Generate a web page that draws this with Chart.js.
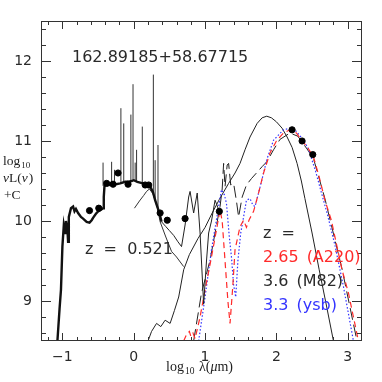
<!DOCTYPE html>
<html>
<head>
<meta charset="utf-8">
<script src="https://cdn.jsdelivr.net/npm/chart.js@4"></script>
<style>
  body { margin: 0; background: #fff; }
</style>
</head>
<body>
<canvas id="sed" width="382" height="382"></canvas>
<script>
// optical template, thick
const optX = [-1.07, -1.04, -1.02, -1.00, -0.98, -0.96, -0.95, -0.93, -0.92, -0.91, -0.88, -0.85, -0.83, -0.81, -0.78, -0.74, -0.71, -0.66, -0.62, -0.59, -0.57, -0.53, -0.50, -0.46, -0.43, -0.42, -0.41, -0.38, -0.34, -0.31, -0.25, -0.19, -0.12, -0.08, -0.03, 0.00, 0.05, 0.13, 0.20, 0.23, 0.27, 0.30, 0.33, 0.36, 0.39];
const optY = [8.5, 8.9, 9.14, 9.68, 9.95, 9.85, 10.0, 9.9, 9.74, 10.05, 10.16, 10.18, 10.12, 10.15, 10.10, 10.05, 10.03, 9.99, 9.98, 10.01, 10.04, 10.09, 10.12, 10.14, 10.16, 10.30, 10.44, 10.46, 10.45, 10.47, 10.46, 10.47, 10.49, 10.49, 10.50, 10.51, 10.49, 10.47, 10.45, 10.43, 10.36, 10.26, 10.18, 10.10, 9.99];
// thin continuation into mid-IR
const midX = [0.39, 0.45, 0.50, 0.56, 0.62, 0.67, 0.72, 0.77, 0.79, 0.84, 0.89, 0.93, 0.98, 1.02, 1.05, 1.09, 1.14, 1.20];
const midY = [9.99, 9.93, 9.88, 9.82, 9.74, 9.68, 9.95, 10.30, 10.37, 10.10, 10.35, 9.85, 8.96, 9.50, 9.85, 10.00, 10.26, 10.12];
// second thin optical template
const thinX = [0.01, 0.08, 0.14, 0.18, 0.22, 0.27, 0.33, 0.37, 0.45, 0.53, 0.60, 0.70];
const thinY = [10.16, 10.25, 10.32, 10.37, 10.40, 10.34, 10.17, 9.99, 9.80, 9.62, 9.55, 9.43];
// peaked solid curve
const peakX = [0.20, 0.25, 0.32, 0.38, 0.44, 0.51, 0.57, 0.63, 0.70, 0.78, 0.90, 1.00, 1.10, 1.20, 1.33, 1.42, 1.49, 1.56, 1.63, 1.73, 1.80, 1.865, 1.93, 2.00, 2.08, 2.15, 2.22, 2.29, 2.35, 2.40, 2.50, 2.60, 2.70, 2.80];
const peakY = [8.5, 8.62, 8.72, 8.68, 8.76, 8.72, 8.88, 9.05, 9.39, 9.58, 9.78, 9.92, 10.10, 10.27, 10.47, 10.60, 10.72, 10.89, 11.05, 11.22, 11.29, 11.31, 11.29, 11.24, 11.16, 11.05, 10.92, 10.72, 10.50, 10.28, 9.85, 9.39, 8.95, 8.5];
// A220 at z = 2.65
const a220X = [0.70, 0.74, 0.78, 0.80, 0.83, 0.86, 0.93, 1.00, 1.09, 1.16, 1.21, 1.24, 1.28, 1.32, 1.35, 1.39, 1.42, 1.49, 1.54, 1.58, 1.62, 1.68, 1.75, 1.82, 1.91, 2.00, 2.10, 2.19, 2.28, 2.36, 2.43, 2.52, 2.60, 2.68, 2.77, 2.92, 3.01, 3.08, 3.15];
const a220Y = [8.5, 8.58, 8.62, 8.56, 8.60, 8.53, 8.80, 9.14, 9.55, 9.89, 10.14, 10.0, 9.5, 9.0, 8.72, 9.2, 9.64, 9.93, 10.01, 9.92, 10.02, 10.12, 10.35, 10.60, 10.85, 11.0, 11.10, 11.14, 11.10, 11.0, 10.93, 10.80, 10.55, 10.26, 10.01, 9.39, 9.10, 8.80, 8.5];
// M82 at z = 3.6
const m82X = [0.84, 0.95, 1.07, 1.14, 1.21, 1.24, 1.26, 1.28, 1.31, 1.33, 1.36, 1.40, 1.44, 1.47, 1.52, 1.58, 1.65, 1.72, 1.80, 1.865, 1.96, 2.05, 2.19, 2.30, 2.43, 2.52, 2.68, 2.92, 3.13];
const m82Y = [8.5, 9.10, 9.51, 9.85, 10.18, 10.40, 10.72, 10.43, 10.70, 10.72, 10.45, 10.47, 10.25, 10.05, 10.30, 10.45, 10.53, 10.60, 10.68, 10.74, 10.89, 11.02, 11.10, 11.06, 10.90, 10.78, 10.28, 9.40, 8.5];
// ysb at z = 3.3
const ysbX = [0.91, 1.00, 1.09, 1.19, 1.23, 1.27, 1.30, 1.34, 1.37, 1.40, 1.43, 1.46, 1.50, 1.54, 1.58, 1.63, 1.67, 1.70, 1.75, 1.82, 1.87, 1.96, 2.10, 2.19, 2.26, 2.38, 2.45, 2.55, 2.66, 2.71, 2.82, 2.94, 3.08];
const ysbY = [8.5, 9.05, 9.64, 10.18, 10.39, 10.33, 10.22, 9.80, 9.55, 9.20, 9.05, 9.50, 9.85, 10.05, 10.26, 10.28, 10.20, 10.18, 10.35, 10.60, 10.78, 11.01, 11.14, 11.16, 11.14, 11.01, 10.90, 10.62, 10.26, 10.10, 9.70, 9.18, 8.5];
// emission lines
const lineX = [-0.43, -0.31, -0.27, -0.18, -0.14, -0.04, -0.01, 0.02, 0.04, 0.12, 0.275, 0.30, 0.34];
const lineBase = [10.44, 10.47, 10.46, 10.47, 10.48, 10.50, 10.50, 10.50, 10.50, 10.47, 10.35, 10.26, 10.14];
const lineTop = [10.73, 10.74, 10.64, 11.41, 11.22, 11.33, 11.71, 10.73, 10.89, 11.18, 11.83, 10.76, 10.95];
// photometry
const obsX = [-0.62, -0.49, -0.38, -0.29, -0.22, -0.08, 0.16, 0.21, 0.37, 0.47, 0.72, 1.20, 2.22, 2.36, 2.51];
const obsY = [10.13, 10.16, 10.47, 10.46, 10.60, 10.46, 10.45, 10.45, 10.10, 10.01, 10.03, 10.12, 11.14, 11.00, 10.83];

const xTicks = [-1, 0, 1, 2, 3];
const yTicks = [9, 10, 11, 12];

const zip = (xs, ys) => xs.map((x, i) => ({ x: x, y: ys[i] }));

const spikes = [];
lineX.forEach((x, i) => {
    spikes.push({ x: x, y: lineBase[i] }, { x: x, y: lineTop[i] }, { x: x, y: null });
});

function curve(xs, ys, color, width, dash) {
    return {
        data: zip(xs, ys),
        showLine: true,
        borderColor: color,
        borderWidth: width,
        borderDash: dash || [],
        pointRadius: 0,
        fill: false,
        tension: 0,
    };
}

const frame = {
    id: 'frame',
    afterDraw(chart) {
        const { ctx, chartArea: a, scales } = chart;
        const x = scales.x, y = scales.y;
        ctx.save();
        ctx.strokeStyle = '#333';
        ctx.lineWidth = 1;
        ctx.strokeRect(a.left + 0.5, a.top + 0.5, a.right - a.left - 1, a.bottom - a.top - 1);
        ctx.beginPath();
        for (let i = -6; i <= 16; i++) {
            const v = i * 0.2;
            if (v <= x.min || v >= x.max) continue;
            const px = Math.round(x.getPixelForValue(v)) + 0.5;
            const len = i % 5 === 0 ? 8 : 4;
            ctx.moveTo(px, a.bottom); ctx.lineTo(px, a.bottom - len);
            ctx.moveTo(px, a.top); ctx.lineTo(px, a.top + len);
        }
        for (let i = 42; i <= 63; i++) {
            const v = i * 0.2;
            if (v <= y.min || v >= y.max) continue;
            const py = Math.round(y.getPixelForValue(v)) + 0.5;
            const len = i % 5 === 0 ? 10 : 5;
            ctx.moveTo(a.left, py); ctx.lineTo(a.left + len, py);
            ctx.moveTo(a.right, py); ctx.lineTo(a.right - len, py);
        }
        ctx.stroke();

        // texts
        ctx.fillStyle = '#2a2a2a';
        ctx.textBaseline = 'alphabetic';
        ctx.textAlign = 'left';
        ctx.font = '16px "DejaVu Sans"';
        ctx.fillText('162.89185+58.67715', 72, 62);

        ctx.fillText('z  =  0.521', 85, 254);
        ctx.fillText('z  =', 263, 238);
        ctx.fillStyle = '#ff2a2a';
        ctx.fillText('2.65\u2002(A220)', 263, 262);
        ctx.fillStyle = '#2a2a2a';
        ctx.fillText('3.6\u2002(M82)', 263, 286);
        ctx.fillStyle = '#3333ff';
        ctx.fillText('3.3\u2002(ysb)', 263, 310);

        // axis titles
        ctx.fillStyle = '#222';
        ctx.font = '13.5px "Liberation Serif"';
        ctx.fillText('log', 3, 165);
        let w = ctx.measureText('log').width;
        ctx.font = '9px "Liberation Serif"';
        ctx.fillText('10', 3 + w + 1, 168);
        ctx.font = 'italic 13.5px "Liberation Serif"';
        ctx.fillText('\u03bd', 3, 182);
        w = ctx.measureText('\u03bd').width;
        ctx.font = '13.5px "Liberation Serif"';
        ctx.fillText('L(', 3 + w, 182);
        w += ctx.measureText('L(').width;
        ctx.font = 'italic 13.5px "Liberation Serif"';
        ctx.fillText('\u03bd', 3 + w, 182);
        w += ctx.measureText('\u03bd').width;
        ctx.font = '13.5px "Liberation Serif"';
        ctx.fillText(')', 3 + w + 1, 182);
        ctx.fillText('+C', 4, 199);

        ctx.font = '14px "Liberation Serif"';
        ctx.fillText('log', 166, 371);
        w = ctx.measureText('log').width;
        ctx.font = '9.5px "Liberation Serif"';
        ctx.fillText('10', 166 + w + 1, 374);
        ctx.font = '14px "Liberation Serif"';
        ctx.fillText('\u03bb(', 199, 371);
        w = ctx.measureText('\u03bb(').width;
        ctx.font = 'italic 14px "Liberation Serif"';
        ctx.fillText('\u03bc', 199 + w, 371);
        w += ctx.measureText('\u03bc').width;
        ctx.font = '14px "Liberation Serif"';
        ctx.fillText('m)', 199 + w, 371);
        ctx.restore();
    }
};

new Chart(document.getElementById('sed'), {
    type: 'scatter',
    data: {
        datasets: [
            {
                data: zip(obsX, obsY),
                backgroundColor: '#000',
                borderColor: '#000',
                pointRadius: 3.1,
                showLine: false,
            },
            curve(optX, optY, '#111', 2.4),
            {
                data: spikes,
                showLine: true,
                spanGaps: false,
                borderColor: '#333',
                borderWidth: 1,
                pointRadius: 0,
            },
            curve(midX, midY, '#222', 1),
            curve(thinX, thinY, '#333', 1),
            curve(a220X, a220Y, '#ff2a2a', 1.2, [6, 4]),
            curve(ysbX, ysbY, '#3333ff', 1.2, [1.5, 2]),
            curve(m82X, m82Y, '#222', 1, [12, 5]),
            curve(peakX, peakY, '#222', 1),
        ],
    },
    options: {
        responsive: false,
        animation: false,
        layout: { padding: { top: 21, right: 20, left: 0, bottom: 0 } },
        plugins: { legend: { display: false }, tooltip: { enabled: false } },
        scales: {
            x: {
                type: 'linear',
                min: -1.3,
                max: 3.2,
                afterFit: s => { s.height = 41; },
                afterBuildTicks: s => { s.ticks = xTicks.map(v => ({ value: v })); },
                grid: { display: false, drawTicks: false },
                border: { display: false },
                ticks: {
                    padding: 8,
                    color: '#2a2a2a',
                    font: { family: 'DejaVu Sans', size: 14 },
                    callback: v => String(v).replace('-', '\u2212'),
                },
            },
            y: {
                type: 'linear',
                min: 8.5,
                max: 12.5,
                afterFit: s => { s.width = 41; },
                afterBuildTicks: s => { s.ticks = yTicks.map(v => ({ value: v })); },
                grid: { display: false, drawTicks: false },
                border: { display: false },
                ticks: {
                    padding: 9,
                    color: '#2a2a2a',
                    font: { family: 'DejaVu Sans', size: 14 },
                },
            },
        },
    },
    plugins: [frame],
});
</script>
</body>
</html>
